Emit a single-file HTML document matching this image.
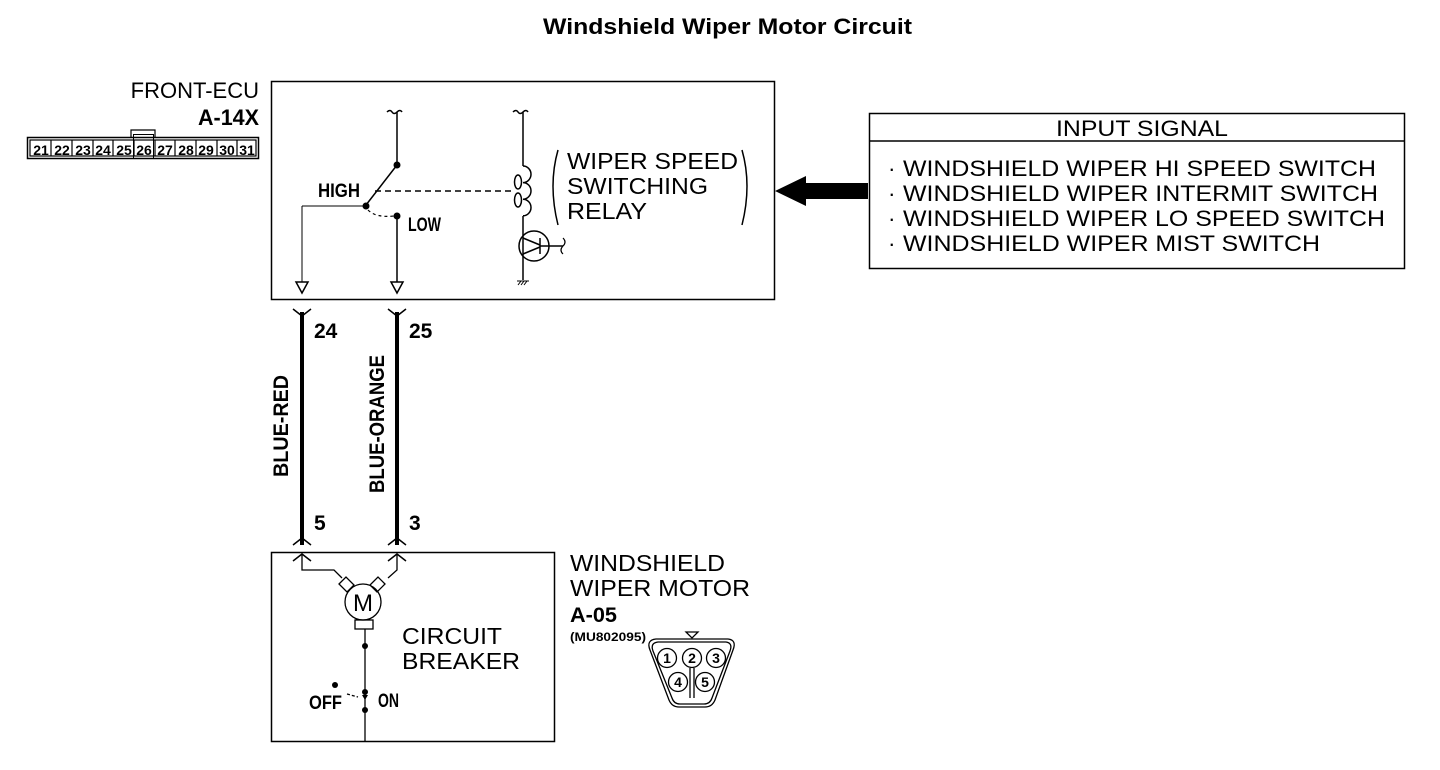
<!DOCTYPE html>
<html><head><meta charset="utf-8"><style>
html,body{margin:0;padding:0;background:#fff;}
svg{display:block;}
text{font-family:"Liberation Sans",sans-serif;fill:#000;}
.c{font-family:"Liberation Sans Narrow","Liberation Sans",sans-serif;font-weight:bold;}
</style></head><body>
<svg width="1440" height="770" viewBox="0 0 1440 770" xmlns="http://www.w3.org/2000/svg">
<text x="543" y="34" font-size="22" font-weight="bold" textLength="369" lengthAdjust="spacingAndGlyphs">Windshield Wiper Motor Circuit</text>

<!-- FRONT-ECU connector -->
<text x="259" y="98" text-anchor="end" font-size="22">FRONT-ECU</text>
<text x="198" y="125" font-size="22" class="c" textLength="61" lengthAdjust="spacingAndGlyphs">A-14X</text>
<g stroke="#000" fill="none">
<rect x="27.5" y="137.5" width="231" height="21" stroke-width="1.5"/>
<polyline points="131,137 131,130 155,130 155,137" stroke-width="1.2"/>
<rect x="133.5" y="134.5" width="20" height="24" stroke-width="1"/>
</g>
<g font-size="14" class="c" text-anchor="middle">
<text x="41" y="155">21</text><text x="62" y="155">22</text><text x="83" y="155">23</text><text x="103" y="155">24</text><text x="124" y="155">25</text><text x="144" y="155">26</text><text x="165" y="155">27</text><text x="186" y="155">28</text><text x="206" y="155">29</text><text x="227" y="155">30</text><text x="247" y="155">31</text>
</g>
<g stroke="#000" stroke-width="1.2">
<line x1="51" y1="140" x2="51" y2="156"/><line x1="72" y1="140" x2="72" y2="156"/><line x1="93" y1="140" x2="93" y2="156"/><line x1="113" y1="140" x2="113" y2="156"/><line x1="134" y1="140" x2="134" y2="156"/><line x1="155" y1="140" x2="155" y2="156"/><line x1="175" y1="140" x2="175" y2="156"/><line x1="196" y1="140" x2="196" y2="156"/><line x1="217" y1="140" x2="217" y2="156"/><line x1="237" y1="140" x2="237" y2="156"/>
<rect x="30" y="140" width="226" height="16" fill="none"/>
</g>

<!-- top box -->
<rect x="271.5" y="81.5" width="503" height="218" fill="none" stroke="#000" stroke-width="1.5"/>
<g stroke="#000" fill="none" stroke-width="1.5">
<path d="M387 112 q3 -3 5 0 q2 3 5 0 M397 112 q3 -3 5 0"/>
<line x1="397" y1="112" x2="397" y2="165"/>
<line x1="397" y1="165" x2="366" y2="205"/>
<line x1="366" y1="206" x2="302" y2="206" stroke-width="1"/>
<line x1="302" y1="206" x2="302" y2="282" stroke-width="1"/>
<path d="M296 282 L308 282 L302 293 Z"/>
<line x1="397" y1="216" x2="397" y2="282"/>
<path d="M391 282 L403 282 L397 293 Z"/>
<path d="M368 210 Q376 218 394 216" stroke-dasharray="3 3" stroke-width="1.2"/>
<line x1="375" y1="191" x2="513" y2="191" stroke-dasharray="6 4" stroke-width="1.5"/>
<path d="M513 112 q3 -3 5 0 q2 3 5 0 M523 112 q3 -3 5 0"/>
<line x1="523" y1="112" x2="523" y2="166"/>
<path d="M523 166 a8 8.3 0 0 1 0 16.6 M523 182.6 a8 8.3 0 0 1 0 16.6 M523 199.2 a8 8.3 0 0 1 0 16.6"/>
<ellipse cx="518" cy="182" rx="3.5" ry="7"/><ellipse cx="518" cy="200" rx="3.5" ry="7"/>
<line x1="523" y1="216" x2="523" y2="280"/>
<circle cx="534" cy="246" r="15"/>
<line x1="523" y1="238" x2="540" y2="245"/><line x1="523" y1="254" x2="540" y2="247"/>
<line x1="540" y1="238" x2="540" y2="254"/><line x1="540" y1="246" x2="563" y2="246"/>
<path d="M563 238 q4 4 0 8 q-4 4 0 8" stroke-width="1.2"/>
<path d="M518 285 l3 -4 M521 285 l3 -4 M524 285 l3 -4 M517 281 h12" stroke-width="1"/>
<path d="M558 150 Q548 185 558 225"/>
<path d="M742 150 Q752 185 742 225"/>
</g>
<circle cx="397" cy="165" r="3.5"/><circle cx="366" cy="206" r="3.5"/><circle cx="397" cy="216" r="3.5"/>
<text x="318" y="197" font-size="19" class="c" textLength="42" lengthAdjust="spacingAndGlyphs">HIGH</text>
<text x="408" y="231" font-size="19" class="c" textLength="33" lengthAdjust="spacingAndGlyphs">LOW</text>
<g font-size="23"><text x="567" y="169" textLength="171" lengthAdjust="spacingAndGlyphs">WIPER SPEED</text><text x="567" y="194" textLength="141" lengthAdjust="spacingAndGlyphs">SWITCHING</text><text x="567" y="219" textLength="80" lengthAdjust="spacingAndGlyphs">RELAY</text></g>

<!-- arrow -->
<path d="M868 183 L806 183 L806 176 L775 191 L806 206 L806 199 L868 199 Z" fill="#000"/>

<!-- input signal box -->
<rect x="869.5" y="113.5" width="535" height="155" fill="none" stroke="#000" stroke-width="1.5"/>
<line x1="869" y1="141" x2="1404" y2="141" stroke="#000" stroke-width="1.5"/>
<text x="1056" y="136" font-size="22" textLength="172" lengthAdjust="spacingAndGlyphs">INPUT SIGNAL</text>
<g font-size="22.5">
<text x="888" y="176">·</text><text x="888" y="201">·</text><text x="888" y="226">·</text><text x="888" y="251">·</text>
<text x="903" y="176" textLength="473" lengthAdjust="spacingAndGlyphs">WINDSHIELD WIPER HI SPEED SWITCH</text>
<text x="903" y="201" textLength="475" lengthAdjust="spacingAndGlyphs">WINDSHIELD WIPER INTERMIT SWITCH</text>
<text x="903" y="226" textLength="482" lengthAdjust="spacingAndGlyphs">WINDSHIELD WIPER LO SPEED SWITCH</text>
<text x="903" y="251" textLength="417" lengthAdjust="spacingAndGlyphs">WINDSHIELD WIPER MIST SWITCH</text>
</g>

<!-- wires -->
<g stroke="#000" fill="none">
<line x1="302" y1="312" x2="302" y2="545" stroke-width="4"/>
<line x1="397" y1="312" x2="397" y2="545" stroke-width="4"/>
<path d="M293 309 L302 316 L311 309 M388 309 L397 316 L406 309" stroke-width="1.5"/>
<path d="M293 545 L302 538 L311 545 M388 545 L397 538 L406 545 M293 561 L302 554 L311 561 M388 561 L397 554 L406 561" stroke-width="1.5"/>
</g>
<g font-size="21" class="c">
<text x="314" y="338">24</text><text x="409" y="338">25</text>
<text x="314" y="530">5</text><text x="409" y="530">3</text>
<text transform="translate(288 426) rotate(-90)" text-anchor="middle" textLength="102" lengthAdjust="spacingAndGlyphs">BLUE-RED</text>
<text transform="translate(384 424) rotate(-90)" text-anchor="middle" textLength="138" lengthAdjust="spacingAndGlyphs">BLUE-ORANGE</text>
</g>

<!-- bottom box -->
<rect x="271.5" y="552.5" width="283" height="189" fill="none" stroke="#000" stroke-width="1.5"/>
<g stroke="#000" fill="none" stroke-width="1.3">
<polyline points="302,554 302,570 334,570 342,578"/>
<polyline points="397,554 397,570 388,578"/>
<path d="M339 584 l7 -7 l8 8 l-7 7 Z"/>
<path d="M385 584 l-7 -7 l-8 8 l7 7 Z"/>
<circle cx="363" cy="602" r="18"/>
<rect x="355" y="620" width="18" height="9"/>
<line x1="365" y1="629" x2="365" y2="742"/>
<path d="M347 694 L358 697" stroke-dasharray="3 2"/>
</g>
<text x="363" y="611" text-anchor="middle" font-size="24">M</text>
<circle cx="365" cy="646" r="3"/><circle cx="365" cy="692" r="3"/><circle cx="365" cy="710" r="3"/><circle cx="335" cy="685" r="3"/>
<path d="M362 695 l3 5 l3 -5 Z" fill="#000"/>
<g font-size="23"><text x="402" y="644" textLength="100" lengthAdjust="spacingAndGlyphs">CIRCUIT</text><text x="402" y="669" textLength="118" lengthAdjust="spacingAndGlyphs">BREAKER</text></g>
<text x="309" y="709" font-size="19" class="c" textLength="33" lengthAdjust="spacingAndGlyphs">OFF</text>
<text x="378" y="707" font-size="19" class="c" textLength="21" lengthAdjust="spacingAndGlyphs">ON</text>

<!-- motor label -->
<g font-size="23"><text x="570" y="571" textLength="155" lengthAdjust="spacingAndGlyphs">WINDSHIELD</text><text x="570" y="596" textLength="180" lengthAdjust="spacingAndGlyphs">WIPER MOTOR</text></g>
<text x="570" y="622" font-size="21" class="c" textLength="47" lengthAdjust="spacingAndGlyphs">A-05</text>
<text x="570" y="641" font-size="12" class="c" textLength="76" lengthAdjust="spacingAndGlyphs">(MU802095)</text>
<g stroke="#000" fill="none" stroke-width="1.3">
<path d="M686 632 h12 l-6 6 Z"/>
<path d="M656 639 L728 639 Q737 640 733 650 L715 700 Q712 707 705 707 L679 707 Q672 707 669 700 L650 650 Q646 640 656 639 Z"/>
<path d="M658 642 L726 642 Q733 643 730 651 L712 698 Q710 704 704 704 L680 704 Q674 704 672 698 L653 651 Q650 643 658 642 Z"/>
<circle cx="667" cy="658" r="9.5"/><circle cx="692" cy="658" r="9.5"/><circle cx="716" cy="658" r="9.5"/>
<circle cx="678" cy="682" r="9.5"/><circle cx="705" cy="682" r="9.5"/>
<line x1="690" y1="668" x2="690" y2="698"/><line x1="694" y1="668" x2="694" y2="698"/>
</g>
<g font-size="14" class="c" text-anchor="middle">
<text x="667" y="663">1</text><text x="692" y="663">2</text><text x="716" y="663">3</text><text x="678" y="687">4</text><text x="705" y="687">5</text>
</g>
</svg>
</body></html>
